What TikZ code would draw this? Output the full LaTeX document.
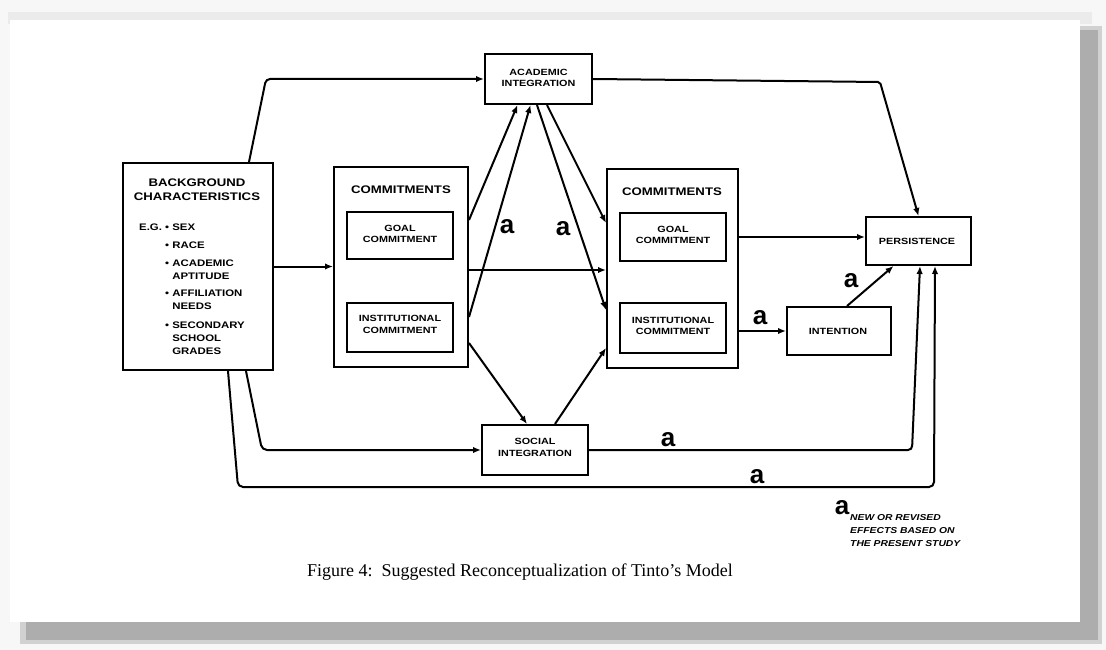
\documentclass[tikz,border=0pt]{standalone}
\usepackage{fontspec}
\setmainfont{Liberation Serif}
\newfontfamily\lab[FakeStretch=1.2]{Liberation Sans}
\newfontfamily\amarkfont{Liberation Sans}
\usetikzlibrary{arrows.meta}
\begin{document}
\begin{tikzpicture}[x=1pt,y=-1pt,
  box/.style={draw,line width=2pt,inner sep=0pt},
  conn/.style={line width=2pt,-{Latex[length=8pt,width=6.5pt]}},
  t/.style={font=\lab\bfseries\fontsize{9}{11.5}\selectfont,align=center,inner sep=0pt},
  ttl/.style={font=\lab\bfseries\fontsize{11}{14}\selectfont,align=center,inner sep=0pt},
  item/.style={font=\lab\bfseries\fontsize{9.5}{13}\selectfont,align=left,inner sep=0pt,anchor=west},
  amark/.style={font=\amarkfont\bfseries\fontsize{26}{26}\selectfont,inner sep=0pt},
  legend/.style={font=\lab\bfseries\itshape\fontsize{8.6}{13}\selectfont,align=left,inner sep=0pt,anchor=west},
]
% page, shadow and paper
\useasboundingbox (0,0) rectangle (1106,650);
\fill[black!3] (0,0) rectangle (1106,650);
\fill[black!8] (8,12) rectangle (1092,24);
\fill[black!18] (20,26) rectangle (1102,644);
\fill[black!32] (26,30) rectangle (1098,640);
\fill[white] (10,20) rectangle (1080,622);

% boxes
\node[box,minimum width=150pt,minimum height=207pt] (bg) at (198,266.5) {};
\node[box,minimum width=134pt,minimum height=200pt] (cL) at (401,267) {};
\node[box,minimum width=106pt,minimum height=47pt] (gL) at (400,235.5) {};
\node[box,minimum width=106pt,minimum height=49pt] (iL) at (400,327.5) {};
\node[box,minimum width=131pt,minimum height=199pt] (cR) at (672.5,268.5) {};
\node[box,minimum width=106pt,minimum height=48pt] (gR) at (673,237) {};
\node[box,minimum width=106pt,minimum height=50pt] (iR) at (673,328) {};
\node[box,minimum width=107pt,minimum height=50pt] (acad) at (538.5,79) {};
\node[box,minimum width=106pt,minimum height=50pt] (soc) at (535,450) {};
\node[box,minimum width=105pt,minimum height=48pt] (pers) at (918.5,241) {};
\node[box,minimum width=104pt,minimum height=48pt] (int) at (839,331) {};

% texts
\node[ttl] (bgt) at (197,190) {BACKGROUND\\CHARACTERISTICS};
\node[item] (eg) at (139,227) {E.G.};
\node[item] (i1) at (165,227) {•\ SEX};
\node[item] (i2) at (165,245) {•\ RACE};
\node[item] (i3) at (165,269.5) {•\ ACADEMIC\\\phantom{•\ }APTITUDE};
\node[item] (i4) at (165,300) {•\ AFFILIATION\\\phantom{•\ }NEEDS};
\node[item] (i5) at (165,338) {•\ SECONDARY\\\phantom{•\ }SCHOOL\\\phantom{•\ }GRADES};
\node[ttl] (cLt) at (401,190) {COMMITMENTS};
\node[ttl] (cRt) at (672,192) {COMMITMENTS};
\node[t] (gLt) at (400,234) {GOAL\\COMMITMENT};
\node[t] (iLt) at (400,324.5) {INSTITUTIONAL\\COMMITMENT};
\node[t] (gRt) at (673,235) {GOAL\\COMMITMENT};
\node[t] (iRt) at (673,326) {INSTITUTIONAL\\COMMITMENT};
\node[t] (acadt) at (538.5,78) {ACADEMIC\\INTEGRATION};
\node[t] (soct) at (535,447.5) {SOCIAL\\INTEGRATION};
\node[t] (perst) at (917,241) {PERSISTENCE};
\node[t] (intt) at (838,331) {INTENTION};

% bend points
\coordinate (b1) at (266,79);
\coordinate (b2) at (880,82);
\coordinate (b3) at (262,450);
\coordinate (b4) at (238,487);
\coordinate (b5) at (934,487);
\coordinate (b6) at (912,450);

% connectors
\draw[conn,rounded corners=4pt] ([xshift=51pt]bg.north) -- (b1) -- (acad.west);
\draw[conn] (bg.east) -- (bg.east -| cL.west);
\draw[conn,rounded corners=2pt] (acad.east) -- (b2) -- (pers.north);
\draw[conn] ([yshift=47pt]cL.east) -- ([xshift=-21pt]acad.south);
\draw[conn] ([yshift=-50pt]cL.east) -- ([xshift=-8pt]acad.south);
\draw[conn] ([xshift=-1.5pt]acad.south) -- ([yshift=-41.5pt]cR.west);
\draw[conn] ([xshift=8.5pt]acad.south) -- ([yshift=45.5pt]cR.west);
\draw[conn] ([yshift=-3pt]cL.east) -- ([yshift=-1.5pt]cR.west);
\draw[conn] ([yshift=-76pt]cL.east) -- ([xshift=-8pt]soc.north);
\draw[conn] ([xshift=20pt]soc.north) -- ([yshift=-79.5pt]cR.west);
\draw[conn] (cR.east |- gR.east) -- (pers.west |- gR.east);
\draw[conn] (cR.east |- int.west) -- (int.west);
\draw[conn] ([xshift=8pt]int.north) -- ([xshift=-25pt]pers.south);
\draw[conn,rounded corners=4pt] (soc.east) -- (b6) -- ([xshift=1.5pt]pers.south);
\draw[conn,rounded corners=5pt] ([xshift=30pt]bg.south) -- (b4) -- (b5) -- ([xshift=16.5pt]pers.south);
\draw[conn,rounded corners=5pt] ([xshift=48pt]bg.south) -- (b3) -- (soc.west);

% "a" marks
\node[amark] (a1) at (507,227) {a};
\node[amark] (a2) at (563,229) {a};
\node[amark] (a3) at (760,318) {a};
\node[amark] (a4) at (851,281) {a};
\node[amark] (a5) at (668,440) {a};
\node[amark] (a6) at (757,477) {a};
\node[amark] (a7) at (842,508) {a};
\node[legend] (leg) at (850,531) {NEW OR REVISED\\EFFECTS BASED ON\\THE PRESENT STUDY};

% caption
\node[font=\fontsize{18}{20}\selectfont,inner sep=0pt] (cap) at (520,572) {Figure 4:\ \ Suggested Reconceptualization of Tinto's Model};
\end{tikzpicture}
\end{document}
